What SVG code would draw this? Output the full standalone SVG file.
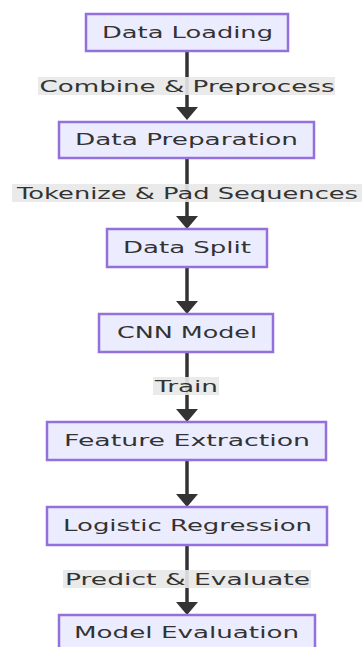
<svg xmlns="http://www.w3.org/2000/svg" width="362" height="647" viewBox="0 0 362 647">
<style>
.node rect{fill:#ECECFF;stroke:#9370DB;stroke-width:2.5}
.nt{font-family:"DejaVu Sans","Liberation Sans",sans-serif;font-size:16px;fill:#333;text-anchor:middle}
.edge{stroke:#333;stroke-width:3.5;fill:none}
.lbg{fill:#e8e8e8;opacity:0.9}
</style>
<defs>
<marker id="ah" viewBox="0 0 13 22" refX="5" refY="11" markerWidth="13" markerHeight="22" markerUnits="userSpaceOnUse" orient="auto">
<path d="M0,0 L13,11 L0,22 z" fill="#333"/>
</marker>
</defs>
<g id="connectors">
<line class="edge" x1="187" y1="51" x2="187" y2="112" marker-end="url(#ah)"/>
<line class="edge" x1="187" y1="158" x2="187" y2="221" marker-end="url(#ah)"/>
<line class="edge" x1="187" y1="267" x2="187" y2="306" marker-end="url(#ah)"/>
<line class="edge" x1="187" y1="352" x2="187" y2="414" marker-end="url(#ah)"/>
<line class="edge" x1="187" y1="460" x2="187" y2="499" marker-end="url(#ah)"/>
<line class="edge" x1="187" y1="545" x2="187" y2="607" marker-end="url(#ah)"/>
<g id="label-combine"><rect class="lbg" x="38" y="77" width="297" height="18"/><text class="nt" x="187" y="91.5" textLength="295" lengthAdjust="spacingAndGlyphs">Combine &amp; Preprocess</text></g>
<g id="label-tokenize"><rect class="lbg" x="12" y="184" width="352" height="18"/><text class="nt" x="187.5" y="198.5" textLength="341" lengthAdjust="spacingAndGlyphs">Tokenize &amp; Pad Sequences</text></g>
<g id="label-train"><rect class="lbg" x="153" y="377" width="66" height="18"/><text class="nt" x="186.5" y="391.5" textLength="63" lengthAdjust="spacingAndGlyphs">Train</text></g>
<g id="label-predict"><rect class="lbg" x="63" y="570" width="248" height="18"/><text class="nt" x="187.5" y="584.5" textLength="245" lengthAdjust="spacingAndGlyphs">Predict &amp; Evaluate</text></g>
</g>
<g id="data-loading" class="node"><rect x="86" y="14" width="202" height="37"/><text class="nt" x="187.5" y="37.5" textLength="171" lengthAdjust="spacingAndGlyphs">Data Loading</text></g>
<g id="data-preparation" class="node"><rect x="59" y="122" width="255" height="36"/><text class="nt" x="186.5" y="145" textLength="223" lengthAdjust="spacingAndGlyphs">Data Preparation</text></g>
<g id="data-split" class="node"><rect x="107" y="229" width="160" height="38"/><text class="nt" x="187" y="253" textLength="128" lengthAdjust="spacingAndGlyphs">Data Split</text></g>
<g id="cnn-model" class="node"><rect x="99" y="314" width="174" height="38"/><text class="nt" x="187" y="338" textLength="140" lengthAdjust="spacingAndGlyphs">CNN Model</text></g>
<g id="feature-extraction" class="node"><rect x="47" y="422" width="279" height="38"/><text class="nt" x="187" y="446" textLength="246" lengthAdjust="spacingAndGlyphs">Feature Extraction</text></g>
<g id="logistic-regression" class="node"><rect x="47" y="507" width="280" height="38"/><text class="nt" x="187.5" y="531" textLength="249" lengthAdjust="spacingAndGlyphs">Logistic Regression</text></g>
<g id="model-evaluation" class="node"><rect x="59" y="615" width="256" height="38"/><text class="nt" x="186.5" y="638" textLength="225" lengthAdjust="spacingAndGlyphs">Model Evaluation</text></g>
</svg>
